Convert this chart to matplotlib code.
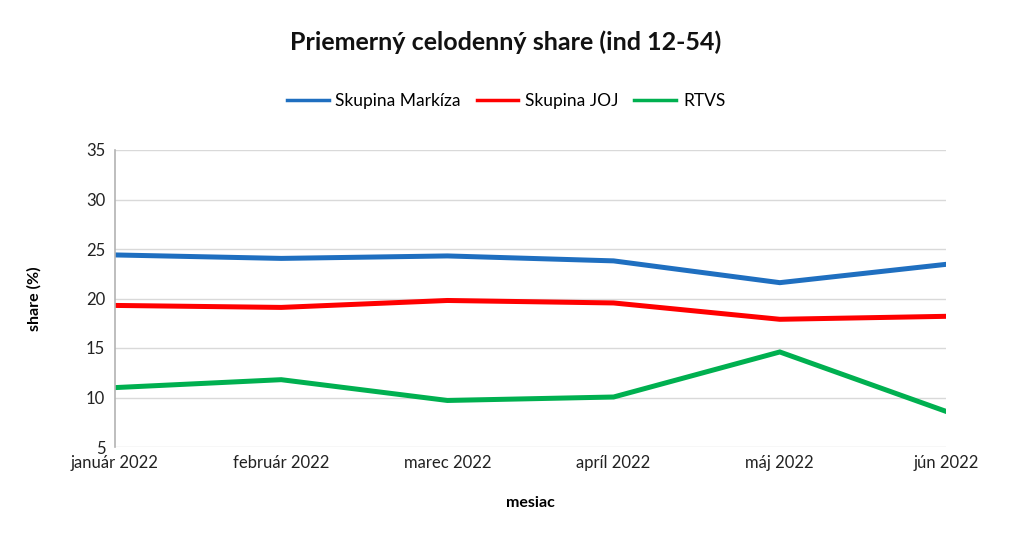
import matplotlib
matplotlib.use("Agg")
import matplotlib.pyplot as plt

months = ["január 2022", "február 2022", "marec 2022", "apríl 2022", "máj 2022", "jún 2022"]
markiza = [24.4, 24.05, 24.3, 23.8, 21.6, 23.45]
joj = [19.3, 19.1, 19.8, 19.55, 17.9, 18.2]
rtvs = [11.0, 11.8, 9.7, 10.05, 14.6, 8.6]
series_names = ["Skupina Markíza", "Skupina JOJ", "RTVS"]
colors = ["#1f6fc0", "#ff0000", "#00b050"]
yticks = [5, 10, 15, 20, 25, 30, 35]

plt.rcParams['font.family'] = ['Lato', 'DejaVu Sans']

fig = plt.figure(figsize=(10.12, 5.37), dpi=100)
ax = fig.add_axes([115/1012, 1-447/537, (946-115)/1012, (447-150)/537])

x = list(range(len(months)))
for vals, name, c in zip([markiza, joj, rtvs], series_names, colors):
    ax.plot(x, vals, color=c, lw=3.6, label=name, solid_joinstyle='miter')

ax.set_xlim(0, len(months) - 1)
ax.set_ylim(5, 35)
ax.set_yticks(yticks)
ax.set_xticks(x)
ax.set_xticklabels(months, fontsize=12, color="#222222")
ax.tick_params(axis='y', labelsize=12, labelcolor="#222222", length=0, pad=7)
ax.tick_params(axis='x', length=0, pad=6)
ax.grid(axis='y', color="#d9d9d9", lw=1)
ax.set_axisbelow(True)
for s in ["top", "right", "bottom"]:
    ax.spines[s].set_visible(False)
ax.spines["left"].set_color("#b3b3b3")
ax.spines["left"].set_linewidth(1.2)

ax.set_ylabel("share (%)", fontsize=11.5, fontweight='bold', labelpad=32)
ax.set_xlabel("mesiac", fontsize=11.5, fontweight='bold', labelpad=18)

fig.text(0.5, 1 - 42/537, "Priemerný celodenný share (ind 12-54)", ha='center', va='center',
         fontsize=18, fontweight='bold', color="#111111")

leg = fig.legend(loc='center', bbox_to_anchor=(0.5, 1 - 101/537), ncol=3, frameon=False,
                 fontsize=12.5, handlelength=2.4, columnspacing=0.9, handletextpad=0.4)
for line in leg.get_lines():
    line.set_linewidth(2.5)

fig.savefig("out.png", dpi=100)
